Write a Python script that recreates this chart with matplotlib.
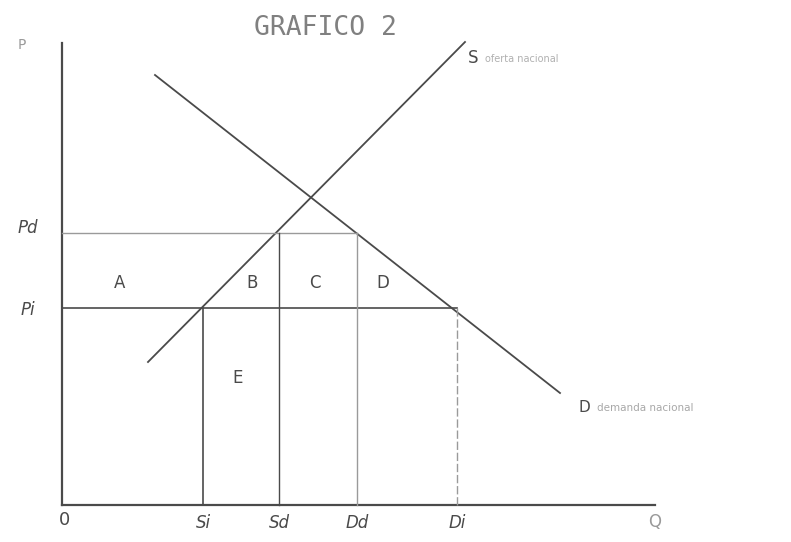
import matplotlib.pyplot as plt

# price levels and quantities (arbitrary units)
p_dom = 27.2   # Pd
p_int = 19.7   # Pi
q_si, q_sd, q_dd, q_di = 14.1, 21.7, 29.5, 39.5

# supply and demand lines (end points)
supply_q = [8.6, 40.3]
supply_p = [14.3, 46.3]
demand_q = [9.3, 49.8]
demand_p = [43.0, 11.2]

area_labels = ['A', 'B', 'C', 'D', 'E']
area_q = [5.8, 19.0, 25.3, 32.1, 17.6]
area_p = [22.2, 22.2, 22.2, 22.2, 12.7]

q_ticks = ['Si', 'Sd', 'Dd', 'Di']
q_tick_pos = [q_si, q_sd, q_dd, q_di]

ink = '#4a4a4a'
faint = '#9a9a9a'

fig = plt.figure(figsize=(7.91, 5.42), dpi=100)
ax = fig.add_axes([0, 0, 1, 1])
ax.set_xlim(-6.2, 72.9)
ax.set_ylim(-3.7, 50.5)
ax.axis('off')

# axes
ax.plot([0, 0], [0, 46.2], color=ink, lw=1.6)
ax.plot([0, 59.3], [0, 0], color=ink, lw=1.6)

# curves
ax.plot(supply_q, supply_p, color=ink, lw=1.3)
ax.plot(demand_q, demand_p, color=ink, lw=1.3)

# price lines
ax.plot([0, q_dd], [p_dom, p_dom], color=faint, lw=1.0)
ax.plot([0, q_di], [p_int, p_int], color=ink, lw=1.2)

# quantity lines
ax.plot([q_si, q_si], [0, p_int], color=ink, lw=1.2)
ax.plot([q_sd, q_sd], [0, p_dom], color=ink, lw=1.0)
ax.plot([q_dd, q_dd], [0, p_dom], color=faint, lw=1.0)
ax.plot([q_di, q_di], [0, p_int], color=faint, lw=1.0, ls=(0, (6, 2)))

for lab, q, p in zip(area_labels, area_q, area_p):
    ax.text(q, p, lab, fontsize=12, color=ink, ha='center', va='center')

for lab, q in zip(q_ticks, q_tick_pos):
    ax.text(q, -1.8, lab, fontsize=12, color=ink, ha='center', va='center',
            style='italic')
ax.text(0.3, -1.5, '0', fontsize=13, color=ink, ha='center', va='center')
ax.text(59.3, -1.7, 'Q', fontsize=12, color=faint, ha='center', va='center')

ax.text(-3.4, 27.7, 'Pd', fontsize=12, color=ink, ha='center', va='center',
        style='italic')
ax.text(-3.4, 19.5, 'Pi', fontsize=12, color=ink, ha='center', va='center',
        style='italic')
ax.text(-4.0, 46.0, 'P', fontsize=10, color=faint, ha='center', va='center')

ax.text(40.6, 44.7, 'S', fontsize=12, color=ink, ha='left', va='center')
ax.text(42.3, 44.6, 'oferta nacional', fontsize=7, color='#b0b0b0',
        ha='left', va='center')
ax.text(51.7, 9.8, 'D', fontsize=11, color=ink, ha='left', va='center')
ax.text(53.5, 9.7, 'demanda nacional', fontsize=7.5, color='#a8a8a8',
        ha='left', va='center')

ax.text(26.3, 47.7, 'GRAFICO 2', fontsize=19, color='#808080',
        family='DejaVu Sans Mono', ha='center', va='center')

fig.savefig('out.png', dpi=100)
